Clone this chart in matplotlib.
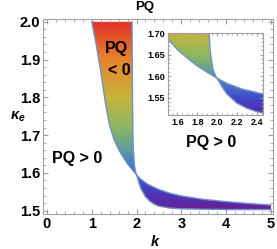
import numpy as np
import matplotlib
matplotlib.use("Agg")
import matplotlib.pyplot as plt
from matplotlib.colors import LinearSegmentedColormap
from matplotlib.patches import Polygon
from matplotlib.ticker import MultipleLocator

plt.rcParams["font.family"] = ["Liberation Sans", "DejaVu Sans"]
plt.rcParams["font.weight"] = "bold"
plt.rcParams["mathtext.fontset"] = "custom"
plt.rcParams["mathtext.it"] = "Liberation Sans:style=italic:weight=bold"
plt.rcParams["mathtext.rm"] = "Liberation Sans:weight=bold"

# upper / left boundary of the PQ < 0 band
k_upper = [1.00, 1.10, 1.20, 1.30, 1.40, 1.50, 1.60, 1.70, 1.80, 1.90, 2.00,
           2.10, 2.25, 2.50, 2.75, 3.00, 3.50, 4.00, 4.50, 5.00]
kap_upper = [2.00, 1.94, 1.87, 1.79, 1.725, 1.688, 1.662, 1.642, 1.624, 1.609, 1.595,
             1.583, 1.570, 1.556, 1.546, 1.539, 1.530, 1.524, 1.519, 1.515]

# lower / right boundary
k_lower = [1.90, 1.905, 1.91, 1.92, 1.93, 1.945, 1.96, 1.99, 2.00,
           2.05, 2.10, 2.20, 2.30, 2.40, 2.50, 2.75, 3.00, 3.50, 4.00, 5.00]
kap_lower = [2.00, 1.90, 1.80, 1.70, 1.66, 1.635, 1.615, 1.598, 1.595,
             1.575, 1.558, 1.537, 1.525, 1.517, 1.512, 1.507, 1.505, 1.504, 1.503, 1.503]

main_xticks = [0, 1, 2, 3, 4, 5]
main_yticks = [1.5, 1.6, 1.7, 1.8, 1.9, 2.0]
inset_xticks = [1.6, 1.8, 2.0, 2.2, 2.4]
inset_yticks = [1.55, 1.60, 1.65, 1.70]

cmap = LinearSegmentedColormap.from_list("pq", [
    (0.00, "#6a1e90"), (0.04, "#5a28a8"), (0.14, "#4048c8"), (0.24, "#4a78c8"),
    (0.32, "#5e9c9c"), (0.44, "#8cb864"), (0.60, "#c8b43c"), (0.80, "#e8842c"),
    (1.00, "#e0312a")])

edge = "#7090c8"
frame = "#a0a0a0"


def draw_region(ax, vmin, vmax):
    ku, yu = np.array(k_upper), np.array(kap_upper)
    kl, yl = np.array(k_lower), np.array(kap_lower)
    # upper lobe: left boundary down to pinch, right boundary back up
    top_u = ku <= 2.0
    top_l = kl <= 2.0
    lobe1 = np.vstack([np.column_stack([ku[top_u], yu[top_u]]),
                       np.column_stack([kl[top_l][::-1], yl[top_l][::-1]])])
    bot_u = ku >= 2.0
    bot_l = kl >= 2.0
    lobe2 = np.vstack([np.column_stack([ku[bot_u], yu[bot_u]]),
                       np.column_stack([kl[bot_l][::-1], yl[bot_l][::-1]])])
    grad = np.linspace(1.49, 2.01, 300).reshape(-1, 1)
    for lobe in (lobe1, lobe2):
        poly = Polygon(lobe, closed=True, facecolor="none", edgecolor="none")
        ax.add_patch(poly)
        im = ax.imshow(grad, extent=[0.9, 5.1, 1.49, 2.01], origin="lower",
                       aspect="auto", cmap=cmap, vmin=vmin, vmax=vmax,
                       interpolation="bilinear", zorder=1)
        im.set_clip_path(poly)
    ax.plot(k_upper, kap_upper, color=edge, lw=1.0, zorder=2)
    ax.plot(k_lower, kap_lower, color=edge, lw=1.0, zorder=2)


def style(ax, size, ln):
    for s in ax.spines.values():
        s.set_color(frame)
        s.set_linewidth(0.8)
    ax.tick_params(which="both", direction="in", top=True, right=True,
                   color=frame, labelsize=size, pad=2)
    ax.tick_params(which="major", length=ln)
    ax.tick_params(which="minor", length=ln * 0.55)


fig = plt.figure(figsize=(2.77, 2.49), dpi=100)
ax = fig.add_axes([0.155, 0.1406, 0.832, 0.784])
draw_region(ax, 1.5, 2.0)
ax.set_xlim(-0.089, 5.056)
ax.set_ylim(1.4913, 2.008)
ax.set_xticks(main_xticks)
ax.set_yticks(main_yticks)
ax.set_xticklabels([str(v) for v in main_xticks], fontweight="heavy")
ax.set_yticklabels([f"{v:.1f}" for v in main_yticks], fontweight="heavy")
ax.xaxis.set_minor_locator(MultipleLocator(0.2))
ax.yaxis.set_minor_locator(MultipleLocator(0.02))
style(ax, 10.5, 3.5)

ax.text(1.55, 1.93, "PQ", fontsize=11.5, fontweight="heavy", ha="center", va="center")
ax.text(1.62, 1.87, "< 0", fontsize=11.5, fontweight="heavy", ha="center", va="center")
ax.text(0.67, 1.637, "PQ > 0", fontsize=11.5, fontweight="heavy", ha="center", va="center")
ax.text(3.66, 1.68, "PQ > 0", fontsize=11.5, fontweight="heavy", ha="center", va="center")

fig.text(0.523, 0.972, "PQ", fontsize=9.5, fontweight="heavy", ha="center", va="center")
fig.text(0.065, 0.53, r"$\kappa_e$", fontsize=10.5, ha="center", va="center")
fig.text(0.56, 0.03, r"$k$", fontsize=10.5, ha="center", va="center")

ins = fig.add_axes([0.605, 0.538, 0.344, 0.328])
ins.set_facecolor("white")
draw_region(ins, 1.5, 1.833)
ins.set_xlim(1.50, 2.463)
ins.set_ylim(1.509, 1.70)
ins.set_xticks(inset_xticks)
ins.set_yticks(inset_yticks)
ins.set_xticklabels([f"{v:.1f}" for v in inset_xticks], fontweight="heavy")
ins.set_yticklabels([f"{v:.2f}" for v in inset_yticks], fontweight="heavy")
ins.xaxis.set_minor_locator(MultipleLocator(0.05))
ins.yaxis.set_minor_locator(MultipleLocator(0.01))
style(ins, 6.5, 2.5)

fig.savefig("out.png", dpi=100)
